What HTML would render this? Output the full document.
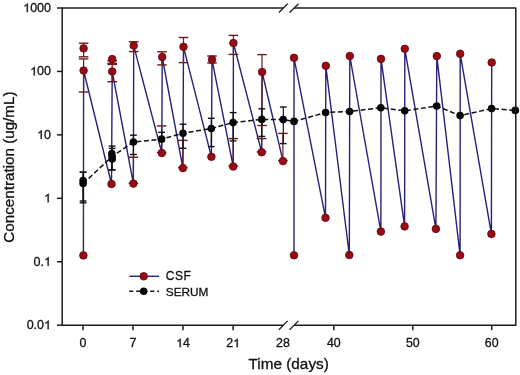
<!DOCTYPE html>
<html><head><meta charset="utf-8"><style>
html,body{margin:0;padding:0;background:#fff;width:520px;height:375px;overflow:hidden;}
svg{display:block;font-family:"Liberation Sans",sans-serif;will-change:transform;}
</style></head><body>
<svg width="520" height="375" viewBox="0 0 520 375"><rect width="520" height="375" fill="#fff"/><polyline points="83.4,255.4 83.6,70.5 111.5,184.0 112.2,71.5 133.4,183.6 133.7,45.6 161.8,153.0 162.2,57.0 182.9,168.1 183.5,46.8 211.4,156.8 212.0,59.6 233.2,166.5 233.4,43.0 261.7,152.3 262.1,72.0 283.0,161.1" fill="none" stroke="#272278" stroke-width="1.4" stroke-linejoin="miter"/><polyline points="294.0,255.3 294.0,57.8 325.5,217.8 325.8,65.8 349.3,255.0 349.8,56.0 380.9,231.6 381.0,58.9 404.6,226.4 404.8,48.8 435.9,228.9 436.8,56.1 460.1,255.2 460.2,53.8 491.4,233.9 491.7,62.5" fill="none" stroke="#272278" stroke-width="1.4" stroke-linejoin="miter"/><line x1="83.6" y1="43.2" x2="83.6" y2="56.8" stroke="#6e1a1a" stroke-width="1.2"/><line x1="78.8" y1="43.2" x2="88.39999999999999" y2="43.2" stroke="#6e1a1a" stroke-width="1.4"/><line x1="78.8" y1="56.8" x2="88.39999999999999" y2="56.8" stroke="#6e1a1a" stroke-width="1.4"/><line x1="83.6" y1="58.9" x2="83.6" y2="92.0" stroke="#6e1a1a" stroke-width="1.2"/><line x1="78.8" y1="58.9" x2="88.39999999999999" y2="58.9" stroke="#6e1a1a" stroke-width="1.4"/><line x1="78.8" y1="92.0" x2="88.39999999999999" y2="92.0" stroke="#6e1a1a" stroke-width="1.4"/><line x1="112.2" y1="60.7" x2="112.2" y2="63.3" stroke="#6e1a1a" stroke-width="1.2"/><line x1="107.4" y1="60.7" x2="117.0" y2="60.7" stroke="#6e1a1a" stroke-width="1.4"/><line x1="107.4" y1="63.3" x2="117.0" y2="63.3" stroke="#6e1a1a" stroke-width="1.4"/><line x1="112.2" y1="64.4" x2="112.2" y2="81.7" stroke="#6e1a1a" stroke-width="1.2"/><line x1="107.4" y1="64.4" x2="117.0" y2="64.4" stroke="#6e1a1a" stroke-width="1.4"/><line x1="107.4" y1="81.7" x2="117.0" y2="81.7" stroke="#6e1a1a" stroke-width="1.4"/><line x1="133.7" y1="41.8" x2="133.7" y2="51.6" stroke="#6e1a1a" stroke-width="1.2"/><line x1="128.89999999999998" y1="41.8" x2="138.5" y2="41.8" stroke="#6e1a1a" stroke-width="1.4"/><line x1="128.89999999999998" y1="51.6" x2="138.5" y2="51.6" stroke="#6e1a1a" stroke-width="1.4"/><line x1="162.0" y1="51.8" x2="162.0" y2="64.9" stroke="#6e1a1a" stroke-width="1.2"/><line x1="157.2" y1="51.8" x2="166.8" y2="51.8" stroke="#6e1a1a" stroke-width="1.4"/><line x1="157.2" y1="64.9" x2="166.8" y2="64.9" stroke="#6e1a1a" stroke-width="1.4"/><line x1="183.5" y1="37.5" x2="183.5" y2="62.6" stroke="#6e1a1a" stroke-width="1.2"/><line x1="178.7" y1="37.5" x2="188.3" y2="37.5" stroke="#6e1a1a" stroke-width="1.4"/><line x1="178.7" y1="62.6" x2="188.3" y2="62.6" stroke="#6e1a1a" stroke-width="1.4"/><line x1="212.0" y1="56.0" x2="212.0" y2="63.0" stroke="#6e1a1a" stroke-width="1.2"/><line x1="207.2" y1="56.0" x2="216.8" y2="56.0" stroke="#6e1a1a" stroke-width="1.4"/><line x1="207.2" y1="63.0" x2="216.8" y2="63.0" stroke="#6e1a1a" stroke-width="1.4"/><line x1="233.4" y1="35.4" x2="233.4" y2="54.4" stroke="#6e1a1a" stroke-width="1.2"/><line x1="228.6" y1="35.4" x2="238.20000000000002" y2="35.4" stroke="#6e1a1a" stroke-width="1.4"/><line x1="228.6" y1="54.4" x2="238.20000000000002" y2="54.4" stroke="#6e1a1a" stroke-width="1.4"/><line x1="262.0" y1="54.6" x2="262.0" y2="125.5" stroke="#6e1a1a" stroke-width="1.2"/><line x1="257.2" y1="54.6" x2="266.8" y2="54.6" stroke="#6e1a1a" stroke-width="1.4"/><line x1="257.2" y1="125.5" x2="266.8" y2="125.5" stroke="#6e1a1a" stroke-width="1.4"/><line x1="133.4" y1="157.2" x2="133.4" y2="183.2" stroke="#6e1a1a" stroke-width="1.2"/><line x1="128.6" y1="157.2" x2="138.20000000000002" y2="157.2" stroke="#6e1a1a" stroke-width="1.4"/><line x1="128.6" y1="183.2" x2="138.20000000000002" y2="183.2" stroke="#6e1a1a" stroke-width="1.4"/><line x1="161.6" y1="125.9" x2="161.6" y2="152.5" stroke="#6e1a1a" stroke-width="1.2"/><line x1="156.79999999999998" y1="125.9" x2="166.4" y2="125.9" stroke="#6e1a1a" stroke-width="1.4"/><line x1="156.79999999999998" y1="152.5" x2="166.4" y2="152.5" stroke="#6e1a1a" stroke-width="1.4"/><line x1="182.8" y1="140.4" x2="182.8" y2="167.6" stroke="#6e1a1a" stroke-width="1.2"/><line x1="178.0" y1="140.4" x2="187.60000000000002" y2="140.4" stroke="#6e1a1a" stroke-width="1.4"/><line x1="178.0" y1="167.6" x2="187.60000000000002" y2="167.6" stroke="#6e1a1a" stroke-width="1.4"/><line x1="233.2" y1="138.6" x2="233.2" y2="166.0" stroke="#6e1a1a" stroke-width="1.2"/><line x1="228.39999999999998" y1="138.6" x2="238.0" y2="138.6" stroke="#6e1a1a" stroke-width="1.4"/><line x1="228.39999999999998" y1="166.0" x2="238.0" y2="166.0" stroke="#6e1a1a" stroke-width="1.4"/><line x1="261.6" y1="138.6" x2="261.6" y2="151.8" stroke="#6e1a1a" stroke-width="1.2"/><line x1="256.8" y1="138.6" x2="266.40000000000003" y2="138.6" stroke="#6e1a1a" stroke-width="1.4"/><line x1="256.8" y1="151.8" x2="266.40000000000003" y2="151.8" stroke="#6e1a1a" stroke-width="1.4"/><line x1="282.9" y1="133.4" x2="282.9" y2="160.6" stroke="#6e1a1a" stroke-width="1.2"/><line x1="278.09999999999997" y1="133.4" x2="287.7" y2="133.4" stroke="#6e1a1a" stroke-width="1.4"/><line x1="278.09999999999997" y1="160.6" x2="287.7" y2="160.6" stroke="#6e1a1a" stroke-width="1.4"/><line x1="83.1" y1="172.2" x2="83.1" y2="201.0" stroke="#111" stroke-width="1.2"/><line x1="79.69999999999999" y1="172.2" x2="86.5" y2="172.2" stroke="#111" stroke-width="1.4"/><line x1="79.69999999999999" y1="201.0" x2="86.5" y2="201.0" stroke="#111" stroke-width="1.4"/><line x1="83.1" y1="172.2" x2="83.1" y2="202.8" stroke="#111" stroke-width="1.2"/><line x1="79.69999999999999" y1="172.2" x2="86.5" y2="172.2" stroke="#111" stroke-width="1.4"/><line x1="79.69999999999999" y1="202.8" x2="86.5" y2="202.8" stroke="#111" stroke-width="1.4"/><line x1="112.1" y1="146.1" x2="112.1" y2="169.9" stroke="#111" stroke-width="1.2"/><line x1="108.69999999999999" y1="146.1" x2="115.5" y2="146.1" stroke="#111" stroke-width="1.4"/><line x1="108.69999999999999" y1="169.9" x2="115.5" y2="169.9" stroke="#111" stroke-width="1.4"/><line x1="112.1" y1="148.4" x2="112.1" y2="169.9" stroke="#111" stroke-width="1.2"/><line x1="108.69999999999999" y1="148.4" x2="115.5" y2="148.4" stroke="#111" stroke-width="1.4"/><line x1="108.69999999999999" y1="169.9" x2="115.5" y2="169.9" stroke="#111" stroke-width="1.4"/><line x1="133.4" y1="135.2" x2="133.4" y2="154.5" stroke="#111" stroke-width="1.2"/><line x1="130.0" y1="135.2" x2="136.8" y2="135.2" stroke="#111" stroke-width="1.4"/><line x1="130.0" y1="154.5" x2="136.8" y2="154.5" stroke="#111" stroke-width="1.4"/><line x1="161.6" y1="132.3" x2="161.6" y2="141.5" stroke="#111" stroke-width="1.2"/><line x1="158.2" y1="132.3" x2="165.0" y2="132.3" stroke="#111" stroke-width="1.4"/><line x1="158.2" y1="141.5" x2="165.0" y2="141.5" stroke="#111" stroke-width="1.4"/><line x1="183.0" y1="124.2" x2="183.0" y2="148.3" stroke="#111" stroke-width="1.2"/><line x1="179.6" y1="124.2" x2="186.4" y2="124.2" stroke="#111" stroke-width="1.4"/><line x1="179.6" y1="148.3" x2="186.4" y2="148.3" stroke="#111" stroke-width="1.4"/><line x1="211.3" y1="118.3" x2="211.3" y2="146.6" stroke="#111" stroke-width="1.2"/><line x1="207.9" y1="118.3" x2="214.70000000000002" y2="118.3" stroke="#111" stroke-width="1.4"/><line x1="207.9" y1="146.6" x2="214.70000000000002" y2="146.6" stroke="#111" stroke-width="1.4"/><line x1="233.1" y1="112.6" x2="233.1" y2="140.9" stroke="#111" stroke-width="1.2"/><line x1="229.7" y1="112.6" x2="236.5" y2="112.6" stroke="#111" stroke-width="1.4"/><line x1="229.7" y1="140.9" x2="236.5" y2="140.9" stroke="#111" stroke-width="1.4"/><line x1="261.8" y1="108.8" x2="261.8" y2="136.4" stroke="#111" stroke-width="1.2"/><line x1="258.40000000000003" y1="108.8" x2="265.2" y2="108.8" stroke="#111" stroke-width="1.4"/><line x1="258.40000000000003" y1="136.4" x2="265.2" y2="136.4" stroke="#111" stroke-width="1.4"/><line x1="283.3" y1="107.0" x2="283.3" y2="143.6" stroke="#111" stroke-width="1.2"/><line x1="279.90000000000003" y1="107.0" x2="286.7" y2="107.0" stroke="#111" stroke-width="1.4"/><line x1="279.90000000000003" y1="143.6" x2="286.7" y2="143.6" stroke="#111" stroke-width="1.4"/><polyline points="83.1,183.6 112.1,156.5 133.4,142.0 161.6,139.1 183.0,133.3 211.3,128.5 233.1,122.6 261.8,119.4 283.2,119.6 294.0,121.4 325.6,112.5 349.6,111.5 380.8,107.7 404.7,110.8 436.7,106.0 460.1,115.6 491.6,108.6 515.3,110.4" fill="none" stroke="#111" stroke-width="1.5" stroke-dasharray="5,2.6"/><circle cx="83.4" cy="255.4" r="3.8" fill="#960c14" stroke="#640008" stroke-width="0.8"/><circle cx="83.6" cy="70.5" r="3.8" fill="#960c14" stroke="#640008" stroke-width="0.8"/><circle cx="111.5" cy="184.0" r="3.8" fill="#960c14" stroke="#640008" stroke-width="0.8"/><circle cx="112.2" cy="71.5" r="3.8" fill="#960c14" stroke="#640008" stroke-width="0.8"/><circle cx="133.4" cy="183.6" r="3.8" fill="#960c14" stroke="#640008" stroke-width="0.8"/><circle cx="133.7" cy="45.6" r="3.8" fill="#960c14" stroke="#640008" stroke-width="0.8"/><circle cx="161.8" cy="153.0" r="3.8" fill="#960c14" stroke="#640008" stroke-width="0.8"/><circle cx="162.2" cy="57.0" r="3.8" fill="#960c14" stroke="#640008" stroke-width="0.8"/><circle cx="182.9" cy="168.1" r="3.8" fill="#960c14" stroke="#640008" stroke-width="0.8"/><circle cx="183.5" cy="46.8" r="3.8" fill="#960c14" stroke="#640008" stroke-width="0.8"/><circle cx="211.4" cy="156.8" r="3.8" fill="#960c14" stroke="#640008" stroke-width="0.8"/><circle cx="212.0" cy="59.6" r="3.8" fill="#960c14" stroke="#640008" stroke-width="0.8"/><circle cx="233.2" cy="166.5" r="3.8" fill="#960c14" stroke="#640008" stroke-width="0.8"/><circle cx="233.4" cy="43.0" r="3.8" fill="#960c14" stroke="#640008" stroke-width="0.8"/><circle cx="261.7" cy="152.3" r="3.8" fill="#960c14" stroke="#640008" stroke-width="0.8"/><circle cx="262.1" cy="72.0" r="3.8" fill="#960c14" stroke="#640008" stroke-width="0.8"/><circle cx="283.0" cy="161.1" r="3.8" fill="#960c14" stroke="#640008" stroke-width="0.8"/><circle cx="294.0" cy="255.3" r="3.8" fill="#960c14" stroke="#640008" stroke-width="0.8"/><circle cx="294.0" cy="57.8" r="3.8" fill="#960c14" stroke="#640008" stroke-width="0.8"/><circle cx="325.5" cy="217.8" r="3.8" fill="#960c14" stroke="#640008" stroke-width="0.8"/><circle cx="325.8" cy="65.8" r="3.8" fill="#960c14" stroke="#640008" stroke-width="0.8"/><circle cx="349.3" cy="255.0" r="3.8" fill="#960c14" stroke="#640008" stroke-width="0.8"/><circle cx="349.8" cy="56.0" r="3.8" fill="#960c14" stroke="#640008" stroke-width="0.8"/><circle cx="380.9" cy="231.6" r="3.8" fill="#960c14" stroke="#640008" stroke-width="0.8"/><circle cx="381.0" cy="58.9" r="3.8" fill="#960c14" stroke="#640008" stroke-width="0.8"/><circle cx="404.6" cy="226.4" r="3.8" fill="#960c14" stroke="#640008" stroke-width="0.8"/><circle cx="404.8" cy="48.8" r="3.8" fill="#960c14" stroke="#640008" stroke-width="0.8"/><circle cx="435.9" cy="228.9" r="3.8" fill="#960c14" stroke="#640008" stroke-width="0.8"/><circle cx="436.8" cy="56.1" r="3.8" fill="#960c14" stroke="#640008" stroke-width="0.8"/><circle cx="460.1" cy="255.2" r="3.8" fill="#960c14" stroke="#640008" stroke-width="0.8"/><circle cx="460.2" cy="53.8" r="3.8" fill="#960c14" stroke="#640008" stroke-width="0.8"/><circle cx="491.4" cy="233.9" r="3.8" fill="#960c14" stroke="#640008" stroke-width="0.8"/><circle cx="491.7" cy="62.5" r="3.8" fill="#960c14" stroke="#640008" stroke-width="0.8"/><circle cx="83.6" cy="48.4" r="3.8" fill="#960c14" stroke="#640008" stroke-width="0.8"/><circle cx="112.2" cy="59.1" r="3.8" fill="#960c14" stroke="#640008" stroke-width="0.8"/><circle cx="83.1" cy="183.6" r="3.8" fill="#080808"/><circle cx="112.1" cy="156.5" r="3.8" fill="#080808"/><circle cx="133.4" cy="142.0" r="3.8" fill="#080808"/><circle cx="161.6" cy="139.1" r="3.8" fill="#080808"/><circle cx="183.0" cy="133.3" r="3.8" fill="#080808"/><circle cx="211.3" cy="128.5" r="3.8" fill="#080808"/><circle cx="233.1" cy="122.6" r="3.8" fill="#080808"/><circle cx="261.8" cy="119.4" r="3.8" fill="#080808"/><circle cx="283.2" cy="119.6" r="3.8" fill="#080808"/><circle cx="294.0" cy="121.4" r="3.8" fill="#080808"/><circle cx="325.6" cy="112.5" r="3.8" fill="#080808"/><circle cx="349.6" cy="111.5" r="3.8" fill="#080808"/><circle cx="380.8" cy="107.7" r="3.8" fill="#080808"/><circle cx="404.7" cy="110.8" r="3.8" fill="#080808"/><circle cx="436.7" cy="106.0" r="3.8" fill="#080808"/><circle cx="460.1" cy="115.6" r="3.8" fill="#080808"/><circle cx="491.6" cy="108.6" r="3.8" fill="#080808"/><circle cx="515.3" cy="110.4" r="3.8" fill="#080808"/><circle cx="83.1" cy="180.5" r="3.8" fill="#080808"/><circle cx="111.8" cy="153.5" r="3.8" fill="#080808"/><circle cx="112.2" cy="159.0" r="3.8" fill="#080808"/><line x1="62.2" y1="7.4" x2="62.2" y2="325.8" stroke="#1c1c1c" stroke-width="1.5"/><line x1="515.8" y1="7.4" x2="515.8" y2="325.8" stroke="#1c1c1c" stroke-width="1.5"/><line x1="62.2" y1="8.0" x2="283.2" y2="8.0" stroke="#1c1c1c" stroke-width="1.5"/><line x1="294.2" y1="8.0" x2="515.8" y2="8.0" stroke="#1c1c1c" stroke-width="1.5"/><line x1="62.2" y1="325.2" x2="283.2" y2="325.2" stroke="#1c1c1c" stroke-width="1.5"/><line x1="294.2" y1="325.2" x2="515.8" y2="325.2" stroke="#1c1c1c" stroke-width="1.5"/><line x1="278.9" y1="12.5" x2="287.7" y2="3.7" stroke="#1c1c1c" stroke-width="1.3"/><line x1="289.6" y1="12.5" x2="298.5" y2="3.7" stroke="#1c1c1c" stroke-width="1.3"/><line x1="278.9" y1="329.7" x2="287.7" y2="320.9" stroke="#1c1c1c" stroke-width="1.3"/><line x1="289.6" y1="329.7" x2="298.5" y2="320.9" stroke="#1c1c1c" stroke-width="1.3"/><line x1="57.0" y1="8.0" x2="62.2" y2="8.0" stroke="#1c1c1c" stroke-width="1.5"/><line x1="57.0" y1="71.44" x2="62.2" y2="71.44" stroke="#1c1c1c" stroke-width="1.5"/><line x1="57.0" y1="134.88" x2="62.2" y2="134.88" stroke="#1c1c1c" stroke-width="1.5"/><line x1="57.0" y1="198.32" x2="62.2" y2="198.32" stroke="#1c1c1c" stroke-width="1.5"/><line x1="57.0" y1="261.76" x2="62.2" y2="261.76" stroke="#1c1c1c" stroke-width="1.5"/><line x1="57.0" y1="325.2" x2="62.2" y2="325.2" stroke="#1c1c1c" stroke-width="1.5"/><line x1="83.0" y1="325.2" x2="83.0" y2="330.2" stroke="#1c1c1c" stroke-width="1.5"/><line x1="133.0" y1="325.2" x2="133.0" y2="330.2" stroke="#1c1c1c" stroke-width="1.5"/><line x1="183.0" y1="325.2" x2="183.0" y2="330.2" stroke="#1c1c1c" stroke-width="1.5"/><line x1="233.1" y1="325.2" x2="233.1" y2="330.2" stroke="#1c1c1c" stroke-width="1.5"/><line x1="333.8" y1="325.2" x2="333.8" y2="330.2" stroke="#1c1c1c" stroke-width="1.5"/><line x1="412.8" y1="325.2" x2="412.8" y2="330.2" stroke="#1c1c1c" stroke-width="1.5"/><line x1="491.7" y1="325.2" x2="491.7" y2="330.2" stroke="#1c1c1c" stroke-width="1.5"/><path transform="translate(23.19,12.00) scale(0.006104,-0.006104)" d="M763 0L583 0L583 1100C540 1060 483 1020 413 980C343 940 280 910 225 890L225 1057C326 1103 414 1159 489 1224C564 1289 617 1352 648 1409L763 1409Z" fill="#111" stroke="#111" stroke-width="49.2"/><text x="30.14" y="12.00" font-size="12.5" fill="#111" font-family="Liberation Sans, sans-serif" stroke="#111" stroke-width="0.3">0</text><text x="37.10" y="12.00" font-size="12.5" fill="#111" font-family="Liberation Sans, sans-serif" stroke="#111" stroke-width="0.3">0</text><text x="44.05" y="12.00" font-size="12.5" fill="#111" font-family="Liberation Sans, sans-serif" stroke="#111" stroke-width="0.3">0</text><path transform="translate(30.14,75.44) scale(0.006104,-0.006104)" d="M763 0L583 0L583 1100C540 1060 483 1020 413 980C343 940 280 910 225 890L225 1057C326 1103 414 1159 489 1224C564 1289 617 1352 648 1409L763 1409Z" fill="#111" stroke="#111" stroke-width="49.2"/><text x="37.10" y="75.44" font-size="12.5" fill="#111" font-family="Liberation Sans, sans-serif" stroke="#111" stroke-width="0.3">0</text><text x="44.05" y="75.44" font-size="12.5" fill="#111" font-family="Liberation Sans, sans-serif" stroke="#111" stroke-width="0.3">0</text><path transform="translate(37.10,138.88) scale(0.006104,-0.006104)" d="M763 0L583 0L583 1100C540 1060 483 1020 413 980C343 940 280 910 225 890L225 1057C326 1103 414 1159 489 1224C564 1289 617 1352 648 1409L763 1409Z" fill="#111" stroke="#111" stroke-width="49.2"/><text x="44.05" y="138.88" font-size="12.5" fill="#111" font-family="Liberation Sans, sans-serif" stroke="#111" stroke-width="0.3">0</text><path transform="translate(44.05,202.32) scale(0.006104,-0.006104)" d="M763 0L583 0L583 1100C540 1060 483 1020 413 980C343 940 280 910 225 890L225 1057C326 1103 414 1159 489 1224C564 1289 617 1352 648 1409L763 1409Z" fill="#111" stroke="#111" stroke-width="49.2"/><text x="33.62" y="265.76" font-size="12.5" fill="#111" font-family="Liberation Sans, sans-serif" stroke="#111" stroke-width="0.3">0</text><text x="40.58" y="265.76" font-size="12.5" fill="#111" font-family="Liberation Sans, sans-serif" stroke="#111" stroke-width="0.3">.</text><path transform="translate(44.05,265.76) scale(0.006104,-0.006104)" d="M763 0L583 0L583 1100C540 1060 483 1020 413 980C343 940 280 910 225 890L225 1057C326 1103 414 1159 489 1224C564 1289 617 1352 648 1409L763 1409Z" fill="#111" stroke="#111" stroke-width="49.2"/><text x="26.67" y="329.20" font-size="12.5" fill="#111" font-family="Liberation Sans, sans-serif" stroke="#111" stroke-width="0.3">0</text><text x="33.62" y="329.20" font-size="12.5" fill="#111" font-family="Liberation Sans, sans-serif" stroke="#111" stroke-width="0.3">.</text><text x="37.10" y="329.20" font-size="12.5" fill="#111" font-family="Liberation Sans, sans-serif" stroke="#111" stroke-width="0.3">0</text><path transform="translate(44.05,329.20) scale(0.006104,-0.006104)" d="M763 0L583 0L583 1100C540 1060 483 1020 413 980C343 940 280 910 225 890L225 1057C326 1103 414 1159 489 1224C564 1289 617 1352 648 1409L763 1409Z" fill="#111" stroke="#111" stroke-width="49.2"/><text x="79.55" y="347.20" font-size="12.4" fill="#111" font-family="Liberation Sans, sans-serif" stroke="#111" stroke-width="0.3">0</text><text x="129.55" y="347.20" font-size="12.4" fill="#111" font-family="Liberation Sans, sans-serif" stroke="#111" stroke-width="0.3">7</text><path transform="translate(176.10,347.20) scale(0.006055,-0.006055)" d="M763 0L583 0L583 1100C540 1060 483 1020 413 980C343 940 280 910 225 890L225 1057C326 1103 414 1159 489 1224C564 1289 617 1352 648 1409L763 1409Z" fill="#111" stroke="#111" stroke-width="49.5"/><text x="183.00" y="347.20" font-size="12.4" fill="#111" font-family="Liberation Sans, sans-serif" stroke="#111" stroke-width="0.3">4</text><text x="226.20" y="347.20" font-size="12.4" fill="#111" font-family="Liberation Sans, sans-serif" stroke="#111" stroke-width="0.3">2</text><path transform="translate(233.10,347.20) scale(0.006055,-0.006055)" d="M763 0L583 0L583 1100C540 1060 483 1020 413 980C343 940 280 910 225 890L225 1057C326 1103 414 1159 489 1224C564 1289 617 1352 648 1409L763 1409Z" fill="#111" stroke="#111" stroke-width="49.5"/><text x="326.90" y="347.20" font-size="12.4" fill="#111" font-family="Liberation Sans, sans-serif" stroke="#111" stroke-width="0.3">4</text><text x="333.80" y="347.20" font-size="12.4" fill="#111" font-family="Liberation Sans, sans-serif" stroke="#111" stroke-width="0.3">0</text><text x="405.90" y="347.20" font-size="12.4" fill="#111" font-family="Liberation Sans, sans-serif" stroke="#111" stroke-width="0.3">5</text><text x="412.80" y="347.20" font-size="12.4" fill="#111" font-family="Liberation Sans, sans-serif" stroke="#111" stroke-width="0.3">0</text><text x="484.80" y="347.20" font-size="12.4" fill="#111" font-family="Liberation Sans, sans-serif" stroke="#111" stroke-width="0.3">6</text><text x="491.70" y="347.20" font-size="12.4" fill="#111" font-family="Liberation Sans, sans-serif" stroke="#111" stroke-width="0.3">0</text><text x="276.10" y="347.20" font-size="12.4" fill="#111" font-family="Liberation Sans, sans-serif" stroke="#111" stroke-width="0.3">2</text><text x="283.00" y="347.20" font-size="12.4" fill="#111" font-family="Liberation Sans, sans-serif" stroke="#111" stroke-width="0.3">8</text><text x="288.7" y="369.1" font-size="15.3" text-anchor="middle" fill="#111" font-family="Liberation Sans, sans-serif" stroke="#111" stroke-width="0.3">Time (days)</text><text transform="translate(14.2,167.1) rotate(-90)" x="0" y="0" font-size="15.2" text-anchor="middle" fill="#111" font-family="Liberation Sans, sans-serif" stroke="#111" stroke-width="0.3">Concentration (ug/mL)</text><line x1="129.2" y1="276.3" x2="159.0" y2="276.3" stroke="#272278" stroke-width="1.4"/><circle cx="143.7" cy="276.3" r="3.8" fill="#960c14" stroke="#640008" stroke-width="0.8"/><line x1="129.2" y1="291.3" x2="159" y2="291.3" stroke="#111" stroke-width="1.5" stroke-dasharray="4,3"/><circle cx="143.7" cy="291.3" r="3.8" fill="#080808"/><text x="165.8" y="280.1" font-size="12" letter-spacing="0.55" fill="#111" font-family="Liberation Sans, sans-serif" stroke="#111" stroke-width="0.3">CSF</text><text x="165.8" y="296.1" font-size="11.8" fill="#111" font-family="Liberation Sans, sans-serif" stroke="#111" stroke-width="0.3">SERUM</text></svg>
</body></html>
